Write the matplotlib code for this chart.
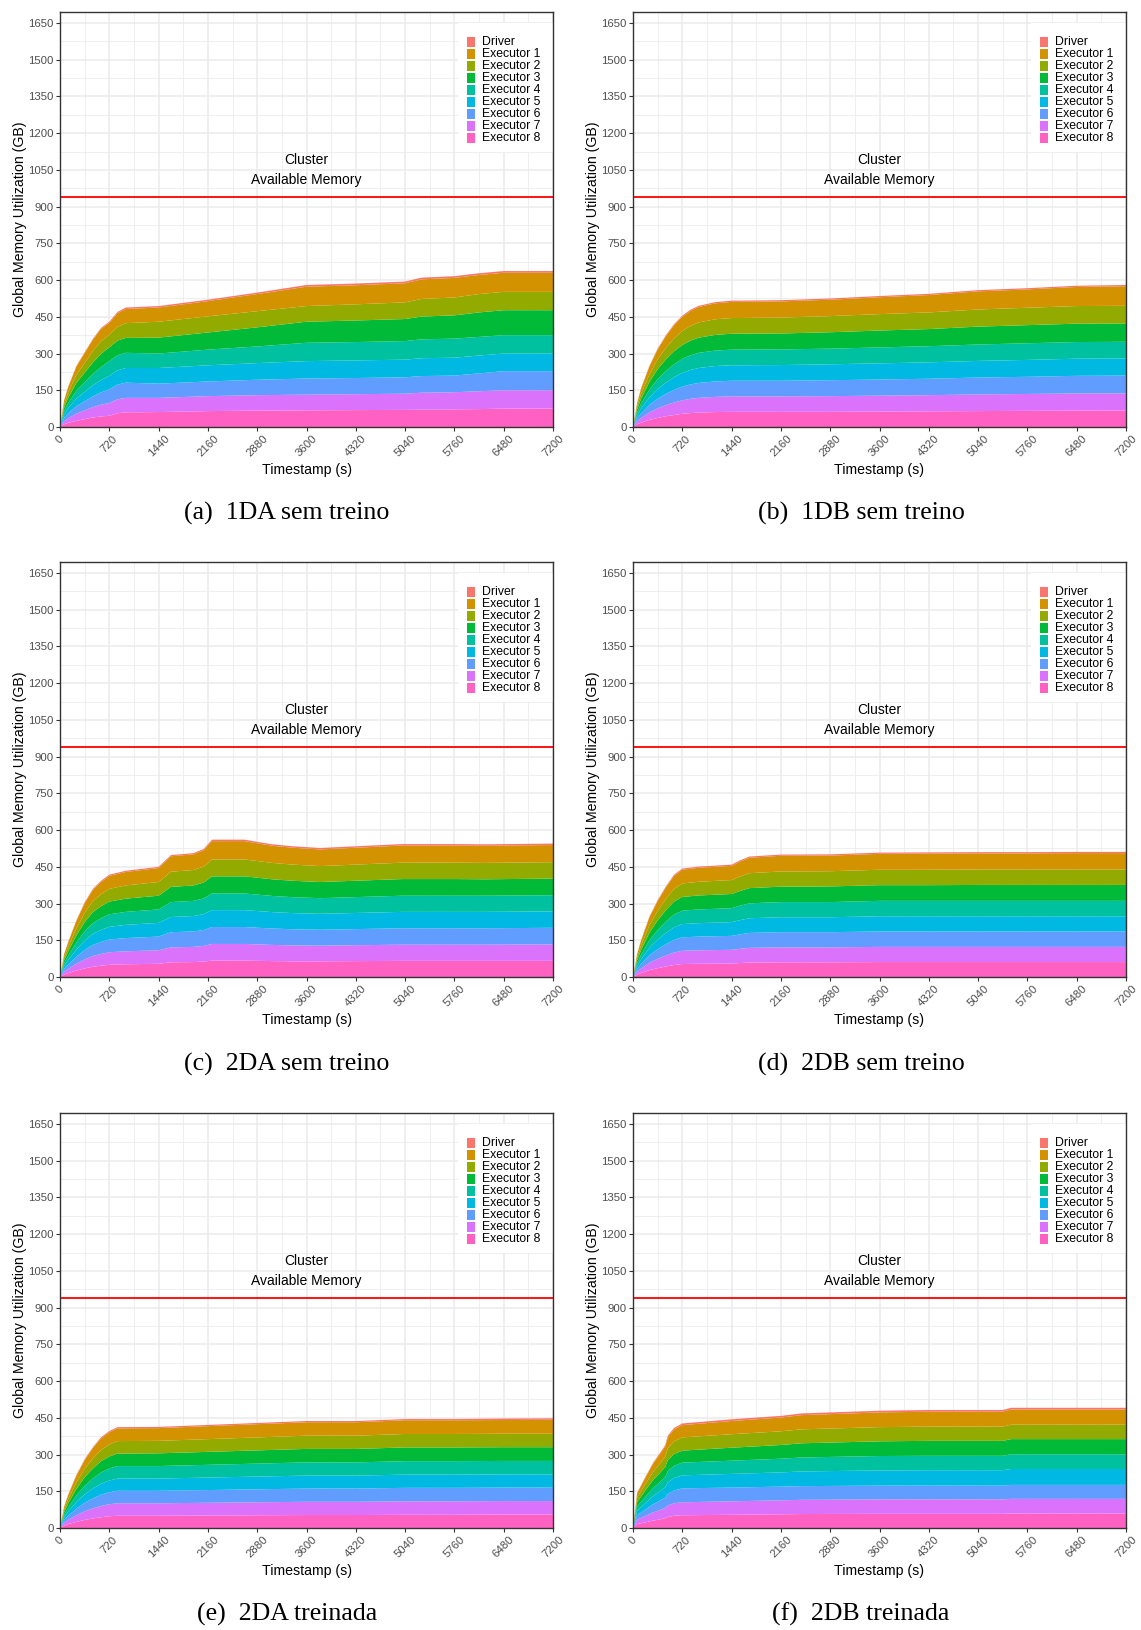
import matplotlib
matplotlib.use("Agg")
import matplotlib.pyplot as plt
import matplotlib.patches as mpatches

plt.rcParams['font.family'] = ['Liberation Sans', 'DejaVu Sans']

# ---------------- dados (GB por processo) ----------------
nomes = ["Driver", "Executor 1", "Executor 2", "Executor 3", "Executor 4",
         "Executor 5", "Executor 6", "Executor 7", "Executor 8"]
cores = ["#F8766D", "#D39200", "#93AA00", "#00BA38", "#00C19F",
         "#00B9E3", "#619CFF", "#DB72FB", "#FF61C3"]
legendas = ["(a)  1DA sem treino", "(b)  1DB sem treino", "(c)  2DA sem treino",
            "(d)  2DB sem treino", "(e)  2DA treinada", "(f)  2DB treinada"]

memoria_cluster = 940

# (a) 1DA sem treino
tempo_a = [0, 60, 120, 240, 360, 480, 600, 720, 840, 960, 1440, 2160, 2880, 3600, 4320, 5040, 5280, 5760, 6120, 6480, 7200]
driver_a = [0, 1, 2, 3, 3, 4, 4, 5, 5, 6, 6, 6, 6, 7, 7, 7, 7, 7, 7, 7, 7]
exec_a = [
    [0, 15, 22, 34, 40, 46, 50, 48, 56, 58, 58, 62, 70, 79, 78, 78, 80, 80, 78, 78, 78],
    [0, 15, 22, 33, 40, 47, 52, 52, 56, 60, 65, 66, 66, 64, 66, 68, 72, 73, 75, 75, 75],
    [0, 14, 21, 32, 40, 47, 54, 56, 60, 61, 65, 70, 78, 86, 88, 90, 93, 95, 100, 102, 102],
    [0, 14, 21, 32, 39, 46, 53, 60, 62, 62, 59, 64, 68, 75, 75, 76, 77, 78, 76, 75, 75],
    [0, 14, 21, 31, 38, 45, 51, 55, 58, 60, 64, 66, 68, 71, 72, 72, 73, 73, 73, 72, 72],
    [0, 14, 20, 31, 37, 44, 50, 56, 60, 62, 58, 60, 63, 66, 66, 67, 68, 68, 73, 78, 78],
    [0, 12, 19, 29, 36, 42, 48, 52, 57, 59, 58, 61, 63, 64, 65, 66, 69, 70, 73, 75, 75],
    [0, 11, 17, 25, 32, 39, 43, 46, 56, 60, 61, 65, 67, 68, 69, 70, 71, 72, 73, 75, 75],
]

# (b) 1DB sem treino
tempo_b = [0, 60, 120, 240, 360, 480, 600, 720, 840, 960, 1200, 1440, 2160, 2880, 3600, 4320, 5040, 5760, 6480, 7200]
driver_b = [0, 1, 2, 3, 3, 4, 4, 5, 5, 5, 5, 5, 5, 5, 5, 5, 5, 5, 5, 5]
exec_b = [
    [0, 13, 21, 32, 41, 48, 54, 58, 61, 63, 65, 66, 66, 67, 69, 71, 74, 75, 78, 80],
    [0, 13, 20, 31, 40, 47, 53, 57, 60, 62, 64, 64, 65, 66, 67, 68, 70, 71, 72, 72],
    [0, 13, 21, 32, 41, 48, 53, 57, 60, 62, 64, 65, 65, 67, 69, 70, 73, 74, 75, 75],
    [0, 12, 20, 31, 40, 47, 52, 57, 60, 62, 63, 64, 64, 64, 65, 66, 67, 68, 68, 68],
    [0, 12, 20, 31, 40, 46, 52, 56, 59, 61, 63, 63, 64, 65, 66, 67, 68, 69, 70, 70],
    [0, 12, 19, 31, 39, 46, 52, 56, 59, 61, 63, 64, 64, 65, 66, 67, 69, 70, 72, 73],
    [0, 12, 19, 30, 39, 45, 51, 55, 58, 60, 62, 63, 63, 64, 65, 66, 68, 69, 70, 70],
    [0, 11, 18, 29, 37, 44, 49, 54, 57, 59, 61, 62, 62, 62, 63, 64, 65, 66, 67, 67],
]

# (c) 2DA sem treino
tempo_c = [0, 60, 120, 240, 360, 480, 600, 720, 960, 1200, 1440, 1620, 1950, 2100, 2220, 2700, 2900, 3100, 3400, 3800, 4400, 5000, 5800, 6200, 7200]
driver_c = [0, 1, 2, 3, 4, 4, 5, 5, 5, 5, 5, 5, 5, 5, 6, 6, 6, 6, 6, 6, 6, 6, 6, 6, 6]
exec_c = [
    [0, 12, 19, 30, 39, 46, 50, 53, 55, 56, 57, 63, 64, 67, 75, 75, 72, 70, 69, 68, 69, 70, 70, 70, 70],
    [0, 12, 18, 29, 38, 45, 49, 52, 54, 55, 56, 62, 63, 65, 69, 69, 68, 67, 66, 65, 66, 67, 67, 67, 67],
    [0, 12, 18, 29, 38, 45, 49, 52, 54, 55, 56, 62, 63, 65, 70, 70, 69, 68, 67, 66, 67, 68, 68, 67, 68],
    [0, 12, 18, 29, 38, 44, 48, 51, 53, 54, 55, 61, 62, 64, 68, 68, 67, 66, 65, 64, 65, 66, 66, 66, 66],
    [0, 12, 18, 29, 38, 45, 49, 52, 54, 55, 56, 62, 63, 65, 69, 69, 68, 67, 66, 65, 66, 67, 67, 67, 67],
    [0, 12, 18, 29, 38, 45, 49, 52, 54, 55, 56, 62, 63, 65, 69, 69, 68, 67, 66, 65, 66, 67, 67, 67, 68],
    [0, 11, 17, 28, 37, 44, 48, 51, 53, 54, 55, 61, 62, 64, 68, 68, 67, 66, 65, 64, 65, 66, 66, 66, 67],
    [0, 10, 16, 26, 35, 42, 46, 50, 52, 53, 54, 60, 61, 63, 67, 67, 66, 65, 64, 64, 65, 66, 66, 66, 66],
]

# (d) 2DB sem treino
tempo_d = [0, 60, 120, 240, 360, 480, 600, 720, 960, 1440, 1560, 1700, 2160, 2880, 3600, 4320, 5040, 5760, 6480, 7200]
driver_d = [0, 1, 2, 3, 4, 4, 5, 5, 5, 5, 5, 5, 5, 5, 5, 5, 5, 5, 5, 5]
exec_d = [
    [0, 13, 20, 32, 40, 47, 53, 56, 57, 58, 61, 63, 64, 64, 65, 66, 66, 66, 67, 67],
    [0, 12, 19, 31, 39, 46, 52, 55, 56, 57, 59, 61, 62, 62, 63, 63, 63, 63, 63, 63],
    [0, 12, 19, 31, 40, 47, 53, 56, 57, 58, 60, 62, 63, 64, 64, 64, 65, 65, 65, 65],
    [0, 12, 19, 31, 39, 46, 52, 55, 56, 57, 59, 61, 62, 62, 63, 63, 63, 63, 63, 63],
    [0, 12, 19, 30, 39, 46, 51, 54, 55, 56, 58, 60, 61, 61, 62, 62, 62, 62, 62, 62],
    [0, 12, 19, 31, 39, 46, 52, 55, 56, 57, 59, 61, 62, 62, 63, 63, 63, 63, 63, 63],
    [0, 11, 18, 30, 38, 45, 51, 54, 55, 56, 58, 60, 61, 61, 62, 62, 62, 62, 62, 62],
    [0, 10, 17, 28, 36, 43, 49, 53, 54, 55, 57, 59, 60, 60, 61, 61, 61, 61, 61, 61],
]

# (e) 2DA treinada
tempo_e = [0, 60, 120, 240, 360, 480, 600, 720, 840, 1440, 2160, 2880, 3600, 4320, 5040, 5760, 6480, 7200]
driver_e = [0, 1, 2, 3, 4, 4, 5, 5, 5, 5, 5, 5, 5, 5, 5, 5, 6, 6]
exec_e = [
    [0, 11, 17, 27, 35, 42, 47, 50, 52, 52, 53, 54, 55, 55, 56, 56, 56, 57],
    [0, 11, 17, 27, 35, 41, 46, 49, 51, 51, 52, 53, 54, 54, 55, 55, 55, 55],
    [0, 11, 17, 27, 35, 41, 46, 49, 51, 52, 53, 54, 55, 55, 56, 56, 56, 56],
    [0, 11, 17, 27, 35, 41, 46, 49, 51, 51, 52, 53, 54, 54, 55, 55, 55, 55],
    [0, 11, 17, 27, 34, 40, 45, 48, 50, 50, 51, 52, 53, 53, 54, 54, 54, 54],
    [0, 11, 17, 27, 35, 41, 46, 49, 51, 51, 52, 53, 54, 54, 55, 55, 55, 55],
    [0, 11, 17, 27, 35, 41, 46, 49, 51, 51, 52, 53, 54, 54, 55, 55, 55, 55],
    [0, 10, 16, 25, 33, 39, 44, 48, 50, 50, 51, 52, 53, 53, 54, 54, 55, 55],
]

# (f) 2DB treinada
tempo_f = [0, 60, 180, 290, 390, 470, 510, 600, 720, 1440, 2160, 2460, 3600, 4320, 5040, 5400, 5520, 6480, 7200]
driver_f = [0, 2, 3, 4, 5, 5, 6, 6, 7, 7, 7, 7, 7, 7, 7, 7, 7, 7, 7]
exec_f = [
    [0, 18, 26, 33, 38, 42, 46, 49, 50, 54, 56, 58, 60, 61, 61, 61, 62, 62, 62],
    [0, 18, 26, 33, 38, 42, 48, 52, 54, 55, 56, 57, 58, 58, 58, 58, 59, 59, 59],
    [0, 18, 26, 33, 37, 41, 45, 48, 49, 53, 56, 58, 60, 61, 61, 61, 62, 62, 62],
    [0, 18, 26, 33, 38, 42, 46, 50, 52, 54, 56, 57, 59, 59, 59, 59, 60, 60, 60],
    [0, 18, 26, 33, 38, 42, 47, 51, 53, 56, 58, 60, 62, 63, 63, 63, 65, 65, 65],
    [0, 18, 26, 33, 38, 42, 48, 52, 57, 56, 56, 56, 56, 56, 56, 56, 57, 57, 57],
    [0, 18, 26, 33, 38, 42, 47, 51, 53, 55, 57, 58, 59, 59, 59, 59, 60, 60, 60],
    [0, 16, 23, 30, 35, 40, 45, 50, 52, 54, 56, 57, 58, 58, 58, 58, 59, 59, 59],
]

paineis = [(tempo_a, driver_a, exec_a), (tempo_b, driver_b, exec_b),
           (tempo_c, driver_c, exec_c), (tempo_d, driver_d, exec_d),
           (tempo_e, driver_e, exec_e), (tempo_f, driver_f, exec_f)]

W, H = 1141, 1630


def grafico_memoria(ax, tempos, driver, executores):
    # empilha do Executor 8 (base) ate o Driver (topo)
    camadas = executores[::-1] + [driver]
    ax.stackplot(tempos, camadas, colors=cores[::-1], linewidth=0, zorder=1)

    ax.set_xlim(0, 7200)
    ax.set_ylim(0, 1695)
    ax.set_xticks(range(0, 7201, 720))
    ax.set_xticks(range(360, 7200, 720), minor=True)
    ax.set_yticks(range(0, 1651, 150))
    ax.set_yticks(range(75, 1695, 150), minor=True)
    ax.set_axisbelow(True)
    ax.grid(which="major", color="#EBEBEB", linewidth=1.1)
    ax.grid(which="minor", color="#EBEBEB", linewidth=0.55)
    ax.tick_params(which="major", length=3.2, width=0.8, color="#333333",
                   labelsize=8.2, labelcolor="#4D4D4D", pad=1.5)
    ax.tick_params(which="minor", length=0)
    ax.tick_params(axis="x", labelrotation=45)
    for s in ax.spines.values():
        s.set_color("#333333")
        s.set_linewidth(1.0)
        s.set_zorder(6)

    ax.set_xlabel("Timestamp (s)", fontsize=10.2, labelpad=3)
    ax.set_ylabel("Global Memory Utilization (GB)", fontsize=10.2, labelpad=1)

    ax.axhline(memoria_cluster, color="red", linewidth=1.3, zorder=3)
    ax.text(3600, 1090, "Cluster", ha="center", va="center", fontsize=10, zorder=5)
    ax.text(3600, 1007, "Available Memory", ha="center", va="center", fontsize=10, zorder=5)

    # legenda dentro do painel, canto superior direito
    ax.add_patch(mpatches.Rectangle((0.807, 0.663), 0.192, 0.311, transform=ax.transAxes,
                                    facecolor="white", edgecolor="none", zorder=4))
    passo = 12 / 415
    for i in range(len(nomes)):
        yc = 0.9277 - i * passo
        ax.add_patch(mpatches.Rectangle((0.8256, yc - 0.0132), 0.0162, 0.0264,
                                        transform=ax.transAxes, facecolor=cores[i],
                                        edgecolor="none", zorder=5))
        ax.text(0.856, yc, nomes[i], transform=ax.transAxes, ha="left", va="center",
                fontsize=8.8, zorder=5)


fig = plt.figure(figsize=(W / 100, H / 100), dpi=100)
esquerdas = [60, 633]
baixos = [427, 977, 1528]
centros_legenda = [287, 861]
y_legenda = [513, 1064, 1614]

for k in range(6):
    lin, col = k // 2, k % 2
    ax = fig.add_axes([esquerdas[col] / W, 1 - baixos[lin] / H, 493 / W, 415 / H])
    tempos, driver, executores = paineis[k]
    grafico_memoria(ax, tempos, driver, executores)
    fig.text(centros_legenda[col] / W, 1 - y_legenda[lin] / H, legendas[k],
             ha="center", va="center", fontsize=18.6, family=["Liberation Serif", "DejaVu Serif"])

fig.savefig("out.png", dpi=100)
